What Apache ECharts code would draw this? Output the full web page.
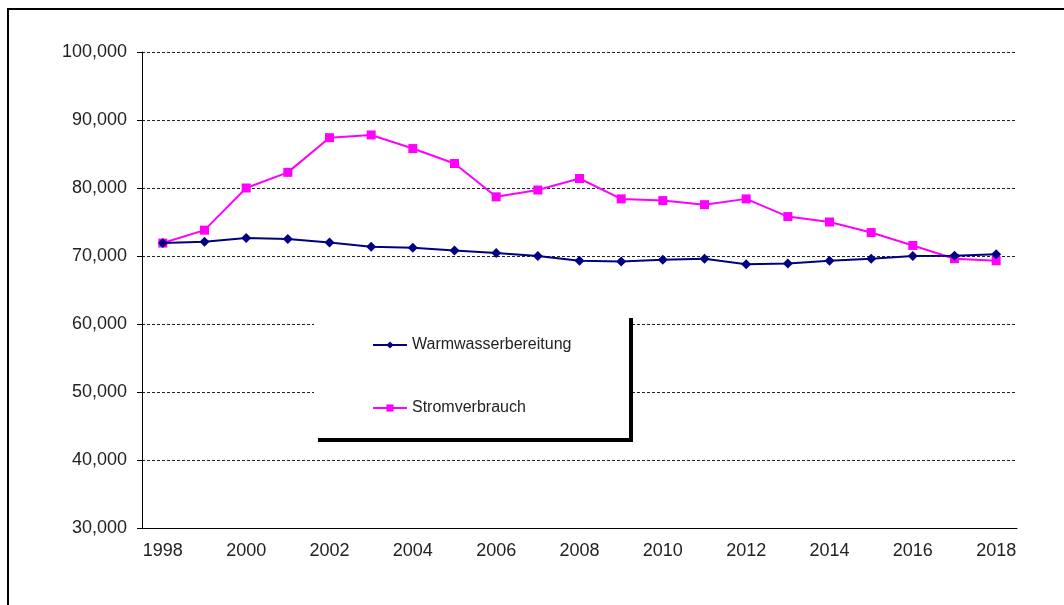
<!DOCTYPE html>
<html>
<head>
<meta charset="utf-8">
<title>Warmwasserbereitung / Stromverbrauch</title>
<script src="https://cdn.jsdelivr.net/npm/echarts@6/dist/echarts.min.js"></script>
<style>
  html, body { margin: 0; padding: 0; background: #fff; }
  #chart { width: 1064px; height: 605px; }
</style>
</head>
<body>
<div id="chart"></div>
<script>
// data
var years = ['1998', '1999', '2000', '2001', '2002', '2003', '2004', '2005', '2006', '2007',
  '2008', '2009', '2010', '2011', '2012', '2013', '2014', '2015', '2016', '2017', '2018'];
var warmwasser = [71900, 72100, 72650, 72500, 72000, 71350, 71200, 70800, 70450, 70000,
  69300, 69200, 69450, 69600, 68800, 68900, 69300, 69600, 70000, 70050, 70250];
var strom = [71900, 73800, 80000, 82300, 87400, 87800, 85800, 83600, 78700, 79700,
  81400, 78400, 78150, 77550, 78400, 75800, 75000, 73450, 71550, 69600, 69300];
var yMin = 30000;
var yMax = 100000;
var yStep = 10000;

var font = 'Liberation Sans, Arial, sans-serif';
var myChart = echarts.init(document.getElementById('chart'));

var option = {
  animation: false,
  backgroundColor: '#fff',
  textStyle: { fontFamily: font },
  grid: { left: 142, top: 52, right: 47, bottom: 77 },
  // outer frame + legend box with hard shadow
  graphic: [
    {
      type: 'rect', silent: true, z: 0,
      shape: { x: 8, y: 9, width: 1100, height: 700 },
      style: { fill: null, stroke: '#000', lineWidth: 2 }
    },
    {
      type: 'rect', silent: true, z: 1,
      shape: { x: 318, y: 318, width: 315, height: 124 },
      style: { fill: '#000' }
    },
    {
      type: 'rect', silent: true, z: 1,
      shape: { x: 314, y: 314, width: 315, height: 124 },
      style: { fill: '#fff' }
    }
  ],
  legend: {
    orient: 'vertical',
    left: 367,
    top: 332,
    itemWidth: 34,
    itemHeight: 9,
    itemGap: 47,
    textStyle: { fontFamily: font, fontSize: 16, color: '#222' },
    data: ['Warmwasserbereitung', 'Stromverbrauch']
  },
  xAxis: {
    type: 'category',
    data: years,
    boundaryGap: true,
    axisLine: { lineStyle: { color: '#000', width: 1 } },
    axisTick: { interval: 0, length: 5, lineStyle: { color: '#000' } },
    axisLabel: { interval: 1, margin: 14, fontSize: 18, color: '#222', fontFamily: font },
    splitLine: { show: false }
  },
  yAxis: {
    type: 'value',
    min: yMin,
    max: yMax,
    interval: yStep,
    axisLine: { show: true, lineStyle: { color: '#000', width: 1 } },
    axisTick: { show: true, length: 5, lineStyle: { color: '#000' } },
    axisLabel: {
      margin: 15, fontSize: 18, color: '#222', fontFamily: font,
      formatter: function (v) {
        return String(v).replace(/\B(?=(\d{3})+(?!\d))/g, ',');
      }
    },
    splitLine: { lineStyle: { color: '#222', width: 1, type: [3, 2] } }
  },
  series: [
    {
      name: 'Warmwasserbereitung',
      type: 'line',
      data: warmwasser,
      symbol: 'diamond',
      symbolSize: 10,
      itemStyle: { color: '#000080' },
      lineStyle: { color: '#000080', width: 2 },
      z: 3
    },
    {
      name: 'Stromverbrauch',
      type: 'line',
      data: strom,
      symbol: 'rect',
      symbolSize: 9,
      itemStyle: { color: '#ff00ff' },
      lineStyle: { color: '#ff00ff', width: 2 },
      z: 2
    }
  ]
};

myChart.setOption(option);
window.addEventListener('resize', function () {
  myChart.resize();
});
</script>
</body>
</html>
